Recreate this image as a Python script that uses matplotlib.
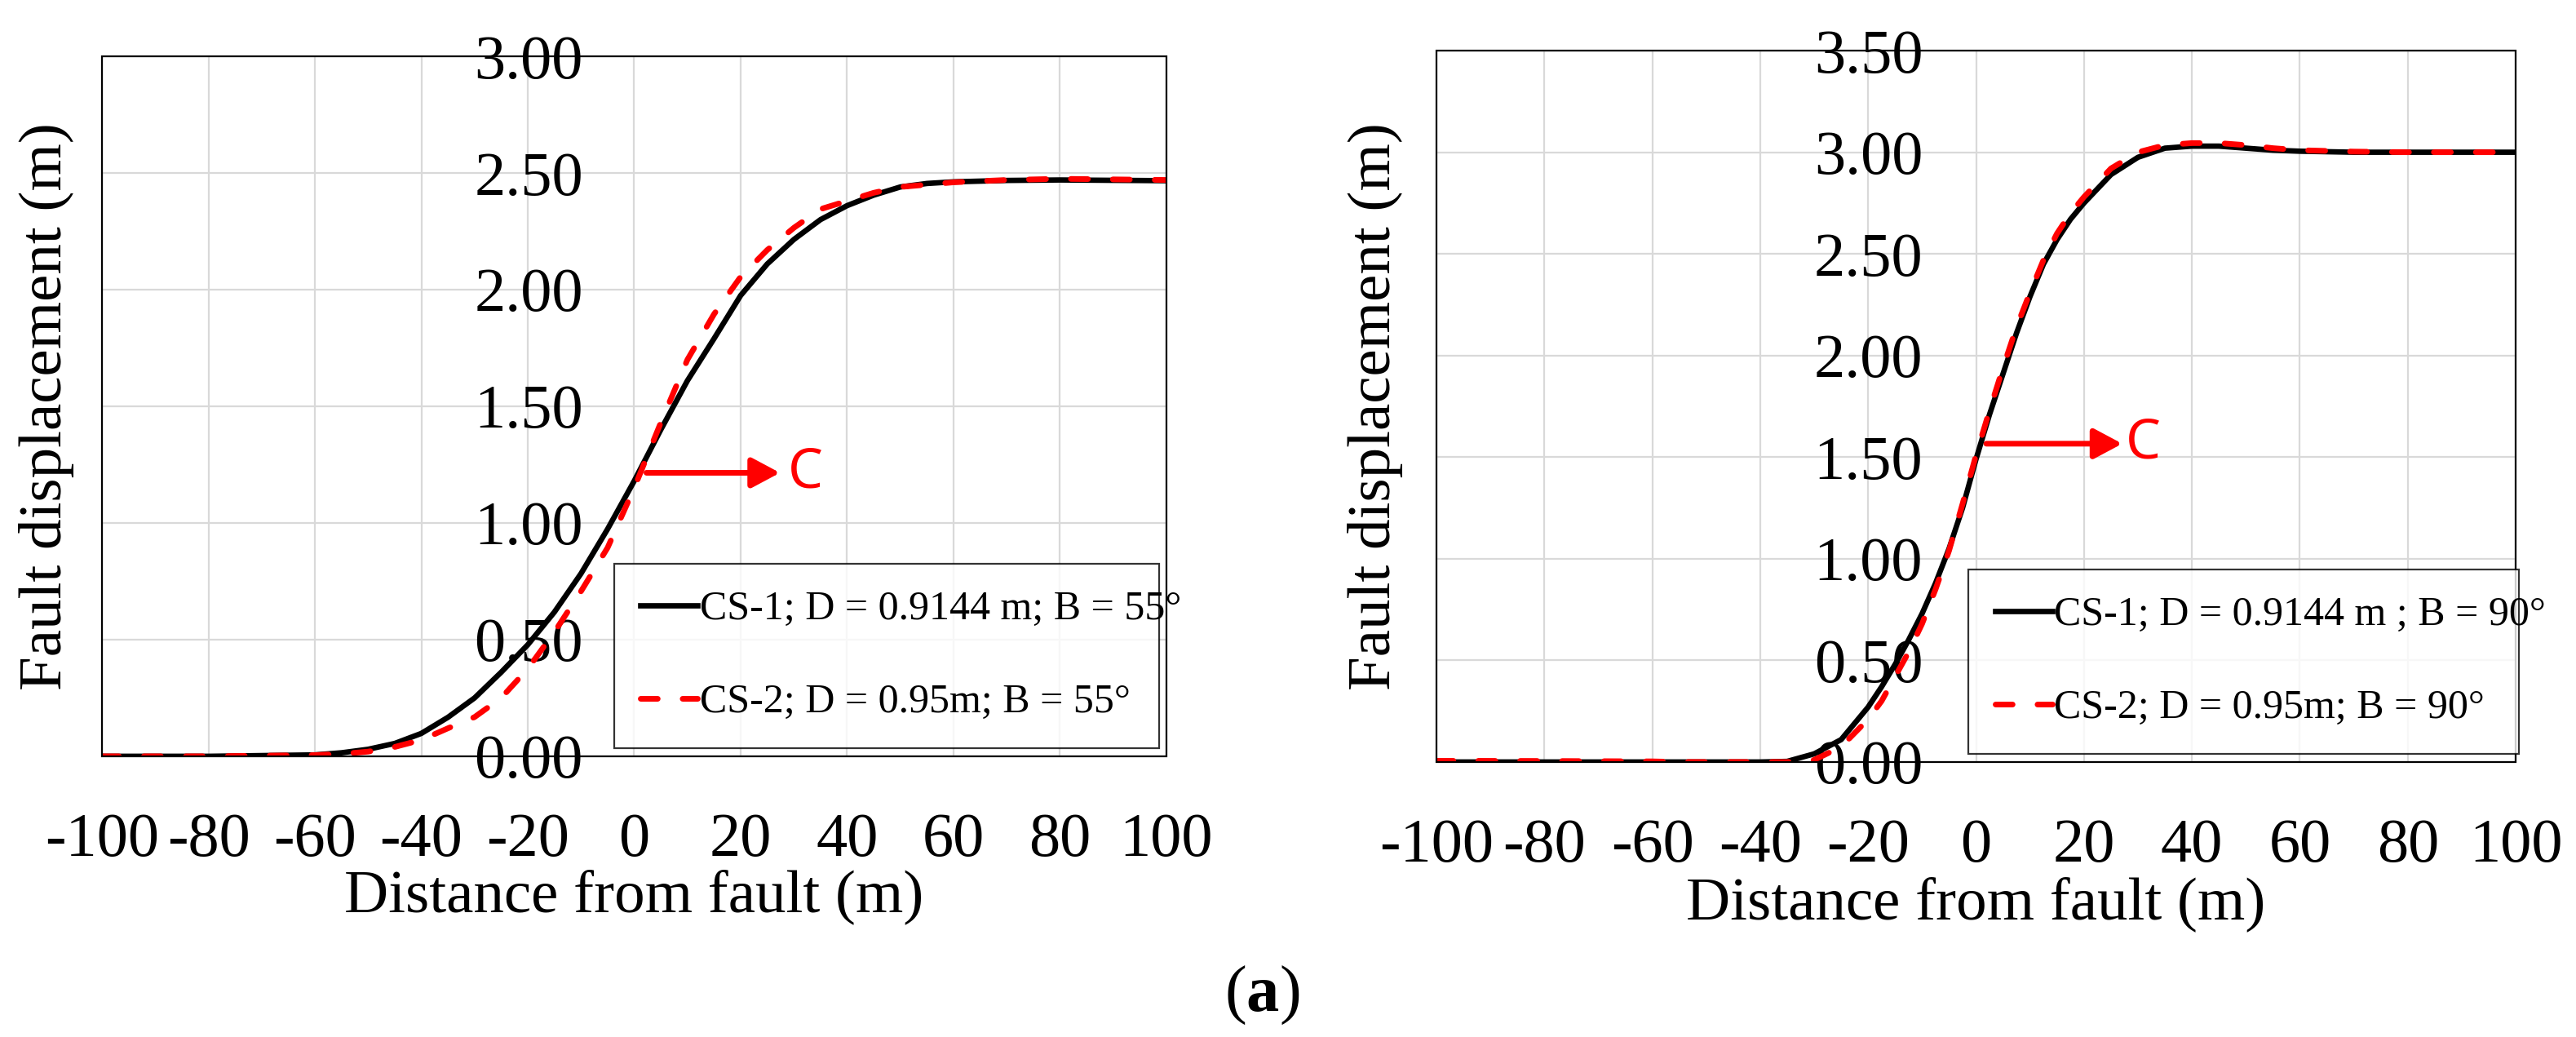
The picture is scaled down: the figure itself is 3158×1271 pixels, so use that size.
import matplotlib
matplotlib.use("Agg")
import matplotlib.pyplot as plt
from matplotlib.lines import Line2D
from matplotlib.patches import Rectangle

plt.rcParams["font.family"] = ["Liberation Serif", "DejaVu Serif"]
plt.rcParams["mathtext.fontset"] = "custom"
plt.rcParams["mathtext.rm"] = "Liberation Serif"
plt.rcParams["mathtext.bf"] = "Liberation Serif:bold"

# ---- data ----
x_left = [-100, -80, -60, -55, -50, -45, -40, -35, -30, -25, -20, -15, -10, -5, 0,
          5, 10, 15, 20, 25, 30, 35, 40, 45, 50, 55, 60, 70, 80, 100]
cs1_left = [0.0, 0.0, 0.006, 0.015, 0.03, 0.055, 0.098, 0.167, 0.25, 0.36, 0.478, 0.618, 0.783, 0.974, 1.18,
            1.40, 1.61, 1.79, 1.975, 2.11, 2.215, 2.30, 2.36, 2.405, 2.44, 2.455, 2.462, 2.468, 2.47, 2.467]
cs2_left = [0.0, 0.0, 0.005, 0.01, 0.02, 0.04, 0.07, 0.12, 0.168, 0.25, 0.375, 0.532, 0.707, 0.894, 1.15,
            1.43, 1.70, 1.895, 2.055, 2.17, 2.265, 2.345, 2.38, 2.415, 2.44, 2.45, 2.46, 2.47, 2.475, 2.47]

x_right = [-100, -80, -60, -55, -40, -35, -30, -25, -20, -17.5, -15, -12.5, -10, -7.5, -5, -2.5, 0,
           2.5, 5, 7.5, 10, 12.5, 15, 17.5, 20, 25, 30, 35, 40, 45, 50, 55, 60, 70, 80, 100]
cs1_right = [0.0, 0.0, 0.0, 0.0, 0.0, 0.003, 0.04, 0.11, 0.27, 0.37, 0.48, 0.60, 0.73, 0.88, 1.05, 1.25, 1.49,
             1.71, 1.91, 2.11, 2.29, 2.45, 2.57, 2.67, 2.75, 2.89, 2.975, 3.02, 3.03, 3.03, 3.02, 3.01, 3.005, 3.0, 3.0, 3.0]
cs2_right = [0.006, 0.005, 0.003, 0.0, 0.0, 0.0, 0.01, 0.075, 0.21, 0.30, 0.42, 0.54, 0.68, 0.85, 1.04, 1.27, 1.51,
             1.73, 1.94, 2.14, 2.31, 2.47, 2.60, 2.70, 2.78, 2.92, 3.0, 3.035, 3.045, 3.045, 3.035, 3.02, 3.01, 3.003, 3.0, 3.0]

x_ticks = [-100, -80, -60, -40, -20, 0, 20, 40, 60, 80, 100]
x_ticklabels = ["-100", "-80", "-60", "-40", "-20", "0", "20", "40", "60", "80", "100"]
y_ticks_left = [0.0, 0.5, 1.0, 1.5, 2.0, 2.5, 3.0]
y_ticks_right = [0.0, 0.5, 1.0, 1.5, 2.0, 2.5, 3.0, 3.5]

labels_left = ["CS-1; D = 0.9144 m; B = 55°", "CS-2; D = 0.95m; B = 55°"]
labels_right = ["CS-1; D = 0.9144 m ; B = 90°", "CS-2; D = 0.95m; B = 90°"]

# annotation "C": (arrow start x, arrow end x, y, text x)
c_left = (2.3, 27.4, 1.215, 32.2)
c_right = (1.9, 27.1, 1.566, 31.0)

fig = plt.figure(figsize=(31.58, 12.71), dpi=100)
ax1 = fig.add_axes([0.0396, 0.2707, 0.4132, 0.6750])
ax2 = fig.add_axes([0.5576, 0.2652, 0.4190, 0.6860])


def style_panel(ax, x, y1, y2, yticks, labels, c_ann, ylab_x, leg_box, ypad):
    ax.plot(x, y1, color="black", lw=4.8, solid_capstyle="round", zorder=3)
    ax.plot(x, y2, color="red", lw=5, dashes=(3, 4.4), dash_capstyle="round", zorder=4)

    ax.set_xlim(-100, 100)
    ax.set_ylim(yticks[0], yticks[-1])
    ax.set_xticks(x_ticks)
    ax.set_xticklabels(x_ticklabels)
    ax.set_yticks(yticks)
    ax.set_yticklabels([f"{v:.2f}" for v in yticks])
    ax.tick_params(axis="x", length=0, pad=50, labelsize=55)
    ax.tick_params(axis="y", length=0, pad=ypad, labelsize=55)

    # value axis crosses at x = 0 (labels next to it), frame drawn separately
    ax.spines["left"].set_position(("data", 0))
    for s in ax.spines.values():
        s.set_visible(False)
    ax.add_patch(Rectangle((0, 0), 1, 1, transform=ax.transAxes, fill=False,
                           ec="black", lw=1.6, clip_on=False, zorder=5))

    ax.grid(True, color="#d9d9d9", lw=1.6)
    ax.set_axisbelow(True)

    ax.set_xlabel("Distance from fault (m)", fontsize=54)
    ax.xaxis.set_label_coords(0.5, -0.161)
    ax.set_ylabel("Fault displacement (m)", fontsize=54)
    ax.yaxis.set_label_coords(ylab_x, 0.5)

    x0, x1, yc, xt = c_ann
    ax.annotate("", xy=(x1, yc), xytext=(x0, yc),
                arrowprops=dict(arrowstyle="-|>,head_length=0.75,head_width=0.4",
                                color="red", lw=5, mutation_scale=28,
                                shrinkA=0, shrinkB=0), zorder=6)
    ax.text(xt, yc, "C", color="red", fontsize=49, family=["Noto Sans", "DejaVu Sans"],
            ha="center", va="center", zorder=6)

    handles = [Line2D([], [], color="black", lw=4.8),
               Line2D([], [], color="red", lw=5, dashes=(3, 4.4), dash_capstyle="round")]
    leg = ax.legend(handles, labels, loc="lower left", bbox_to_anchor=leg_box, mode="expand",
                    fontsize=36, frameon=True, fancybox=False, edgecolor="black",
                    handlelength=1.4, handletextpad=0.05, labelspacing=1.35,
                    borderpad=0.65, borderaxespad=0)
    leg.get_frame().set_linewidth(1.6)
    leg.set_zorder(7)


style_panel(ax1, x_left, cs1_left, cs2_left, y_ticks_left, labels_left, c_left,
            -0.026, (0.481, 0.0117, 0.512, 0.265), 45)
style_panel(ax2, x_right, cs1_right, cs2_right, y_ticks_right, labels_right, c_right,
            -0.031, (0.493, 0.0115, 0.510, 0.261), 47)

fig.text(0.490, 0.040, r"$(\mathbf{a})$", fontsize=58, ha="center", va="center")

fig.savefig("out.png", dpi=100)
